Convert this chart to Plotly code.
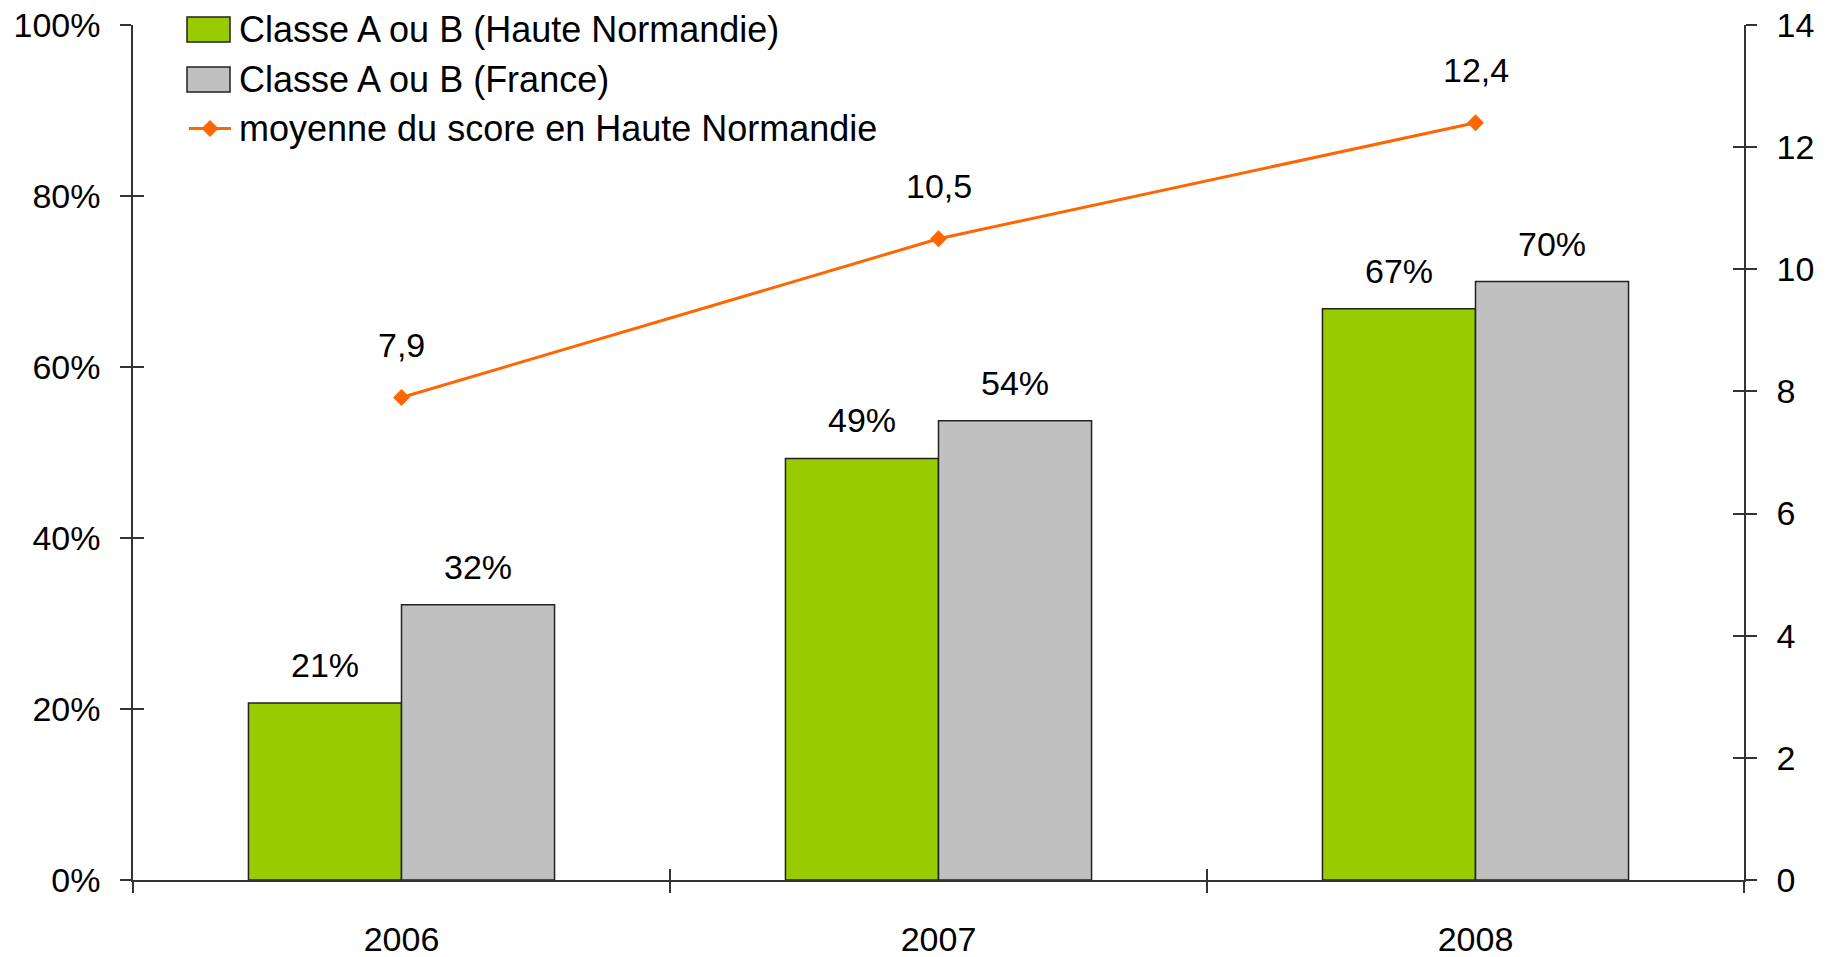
import plotly.graph_objects as go

# ---- data ----
years = ["2006", "2007", "2008"]
hn_share = [0.207, 0.493, 0.668]          # Classe A ou B (Haute Normandie)
fr_share = [0.322, 0.537, 0.700]          # Classe A ou B (France)
hn_score = [7.9, 10.5, 12.4]              # moyenne du score en Haute Normandie
series_names = ["Classe A ou B (Haute Normandie)", "Classe A ou B (France)",
                "moyenne du score en Haute Normandie"]
left_ticks = [0, 0.2, 0.4, 0.6, 0.8, 1.0]
right_ticks = [0, 2, 4, 6, 8, 10, 12, 14]

# ---- style ----
W, H = 1829, 957
L, R, T, B = 133, 1744, 25, 880
GREEN = "#99CC00"
GREY = "#C0C0C0"
ORANGE = "#FF6600"
AXIS = "#333333"
FONT = "Liberation Sans, Arial, sans-serif"
FS = 34
FS_LEG = 36

def px(x):
    return (x - L) / (R - L)

def py(y):
    return (B - y) / (B - T)

idx = list(range(len(years)))

fig = go.Figure()
fig.add_trace(go.Bar(x=years, y=hn_share, name=series_names[0],
                     marker=dict(color=GREEN, line=dict(color="#222222", width=1.5)),
                     showlegend=False, hoverinfo="skip"))
fig.add_trace(go.Bar(x=years, y=fr_share, name=series_names[1],
                     marker=dict(color=GREY, line=dict(color="#222222", width=1.5)),
                     showlegend=False, hoverinfo="skip"))
fig.add_trace(go.Scatter(x=years, y=hn_score, name=series_names[2], yaxis="y2",
                         mode="lines+markers",
                         line=dict(color=ORANGE, width=3),
                         marker=dict(symbol="diamond", size=13, color=ORANGE),
                         showlegend=False, hoverinfo="skip"))
# invisible helper traces so that the tick-overlay axes (inner half of the crossing ticks) are drawn
fig.add_trace(go.Scatter(x=years, y=hn_share, xaxis="x", yaxis="y3", mode="markers",
                         marker=dict(size=1, opacity=0), showlegend=False, hoverinfo="skip"))
fig.add_trace(go.Scatter(x=years, y=hn_score, xaxis="x", yaxis="y4", mode="markers",
                         marker=dict(size=1, opacity=0), showlegend=False, hoverinfo="skip"))
fig.add_trace(go.Scatter(x=idx, y=hn_share, xaxis="x2", yaxis="y", mode="markers",
                         marker=dict(size=1, opacity=0), showlegend=False, hoverinfo="skip"))

annotations = []
bar_w_px = (1 - 0.43) / 2 * (R - L) / 3
for i, (a, b) in enumerate(zip(hn_share, fr_share)):
    annotations.append(dict(x=i, y=a, xref="x", yref="y", text=f"{round(a*100):.0f}%",
                            showarrow=False, xshift=-bar_w_px / 2, yshift=38,
                            font=dict(size=FS, color="black", family=FONT)))
    annotations.append(dict(x=i, y=b, xref="x", yref="y", text=f"{round(b*100):.0f}%",
                            showarrow=False, xshift=bar_w_px / 2, yshift=38,
                            font=dict(size=FS, color="black", family=FONT)))
for i, s in enumerate(hn_score):
    annotations.append(dict(x=i, y=s, xref="x", yref="y2",
                            text=f"{s:.1f}".replace(".", ","),
                            showarrow=False, yshift=53,
                            font=dict(size=FS, color="black", family=FONT)))

# manual legend
shapes = []
rows = [29.5, 79.5, 128.5]
for (fill, yc) in [(GREEN, rows[0]), (GREY, rows[1])]:
    shapes.append(dict(type="rect", xref="paper", yref="paper",
                       x0=px(187), x1=px(230), y0=py(yc - 12.5), y1=py(yc + 12.5),
                       fillcolor=fill, line=dict(color="#222222", width=1.5)))
shapes.append(dict(type="line", xref="paper", yref="paper",
                   x0=px(189), x1=px(231), y0=py(rows[2]), y1=py(rows[2]),
                   line=dict(color=ORANGE, width=3)))
cx, cy, d = 210, rows[2], 8
shapes.append(dict(type="path", xref="paper", yref="paper",
                   path=f"M{px(cx-d)},{py(cy)} L{px(cx)},{py(cy-d)} L{px(cx+d)},{py(cy)} L{px(cx)},{py(cy+d)} Z",
                   fillcolor=ORANGE, line=dict(color=ORANGE, width=1)))
for name, yc in zip(series_names, rows):
    annotations.append(dict(x=px(237), y=py(yc), xref="paper", yref="paper",
                            xanchor="left", yanchor="middle", text=name, showarrow=False,
                            font=dict(size=FS_LEG, color="black", family=FONT)))

axis_common = dict(showgrid=False, zeroline=False, linecolor=AXIS, linewidth=1.5,
                   tickcolor=AXIS, tickwidth=1.5, ticklen=11, automargin=False)
inner_common = dict(ticks="inside", showticklabels=False, showline=False,
                    showgrid=False, zeroline=False, tickcolor=AXIS, tickwidth=1.5,
                    ticklen=11, automargin=False, visible=True)

fig.update_layout(
    template="none",
    width=W, height=H,
    margin=dict(l=L, r=W - R, t=T, b=H - B, pad=0),
    paper_bgcolor="white", plot_bgcolor="white",
    font=dict(family=FONT, size=FS, color="black"),
    barmode="group", bargap=0.43, bargroupgap=0,
    xaxis=dict(type="category", range=[-0.5, 2.5], showline=True, ticks="outside",
               tickson="boundaries", ticklabelstandoff=28, **axis_common),
    xaxis2=dict(overlaying="x", type="linear", range=[-0.5, 2.5], anchor="y",
                side="bottom", tickvals=[-0.5, 0.5, 1.5, 2.5], **inner_common),
    yaxis=dict(range=[0, 1], tickvals=left_ticks, tickformat=".0%", showline=True,
               ticks="outside", ticklabelstandoff=13, **axis_common),
    yaxis2=dict(range=[0, 14], tickvals=right_ticks, overlaying="y", side="right",
                anchor="x", showline=True, ticks="outside", ticklabelstandoff=13,
                **axis_common),
    yaxis3=dict(range=[0, 1], tickvals=left_ticks, overlaying="y", side="left",
                anchor="x", **inner_common),
    yaxis4=dict(range=[0, 14], tickvals=right_ticks, overlaying="y", side="right",
                anchor="x", **inner_common),
    annotations=annotations, shapes=shapes,
    showlegend=False,
)

fig.write_html("out.html", config={"displayModeBar": False},
               post_script="document.body.style.margin='0px';")
